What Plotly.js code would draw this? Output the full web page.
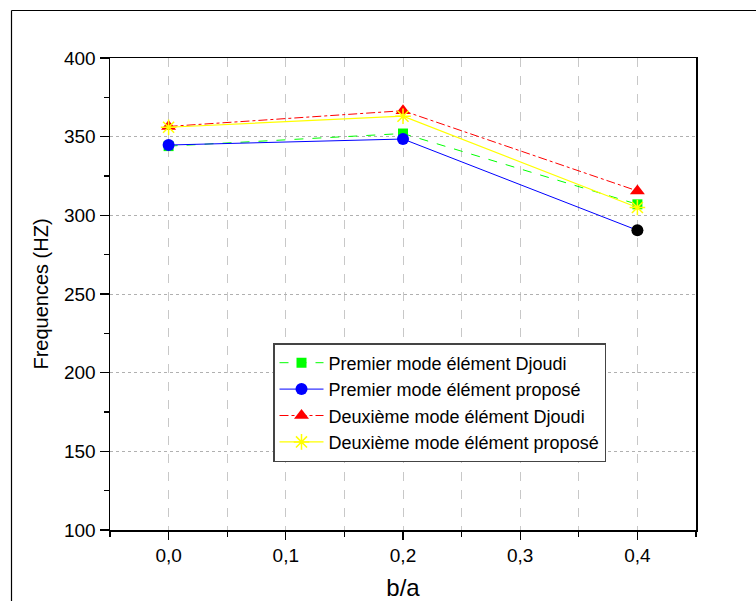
<!DOCTYPE html>
<html>
<head>
<meta charset="utf-8">
<script src="https://cdn.plot.ly/plotly-3.0.1.min.js"></script>
<style>html,body{margin:0;padding:0;background:#fff;}#chart{width:756px;height:601px;}</style>
</head>
<body>
<div id="chart"></div>
<script>
const ratios = [0.0, 0.2, 0.4];
const premierDjoudi = [344, 352, 307];
const premierPropose = [344.7, 348.5, 290.5];
const deuxiemeDjoudi = [356.5, 366.5, 315.5];
const deuxiemePropose = [356, 363, 305];
const seriesNames = [
  "Premier mode élément Djoudi",
  "Premier mode élément proposé",
  "Deuxième mode élément Djoudi",
  "Deuxième mode élément proposé"
];

const FONT = "'Liberation Sans', Arial, sans-serif";

const traces = [
  {x: ratios, y: premierDjoudi, name: seriesNames[0], mode: "lines+markers",
   line: {color: "#00ff00", width: 1, dash: "dash"},
   marker: {symbol: "square", size: 10, color: "#00ff00"}},
  {x: ratios, y: premierPropose, name: seriesNames[1], mode: "lines+markers",
   line: {color: "#0000ff", width: 1},
   marker: {symbol: "circle", size: 12, color: ["#0000ff", "#0000ff", "#000000"]}},
  {x: ratios, y: deuxiemeDjoudi, name: seriesNames[2], mode: "lines+markers",
   line: {color: "#ff0000", width: 1, dash: "dashdot"},
   marker: {symbol: "triangle-up", size: 13, color: "#ff0000"}},
  {x: ratios, y: deuxiemePropose, name: seriesNames[3], mode: "lines+markers",
   line: {color: "#ffff00", width: 1.2},
   marker: {symbol: "asterisk-open", size: 13, color: "#ffff00", line: {color: "#ffff00", width: 1.5}}}
];

const px = v => (v - 110) / 586;
const py = v => (530 - v) / 472;

const layout = {
  width: 756, height: 601,
  margin: {l: 110, r: 60, t: 58, b: 71},
  paper_bgcolor: "#fff", plot_bgcolor: "#fff",
  separators: ",.",
  font: {family: FONT, color: "#000", size: 19},
  showlegend: true,
  legend: {x: px(273), y: py(343), xanchor: "left", yanchor: "top",
    bgcolor: "#fff", bordercolor: "#444", borderwidth: 1.5,
    font: {size: 18, family: FONT, color: "#000"},
    itemwidth: 44,
    tracegroupgap: 0},
  xaxis: {
    range: [-0.05, 0.45], tickmode: "linear", tick0: 0, dtick: 0.1, tickformat: ".1f",
    ticks: "outside", ticklen: 8, tickwidth: 1.2, tickcolor: "#000",
    showline: true, linecolor: "#000", linewidth: 1.5, mirror: true,
    showgrid: true, gridcolor: "#c8c8c8", griddash: "dash", gridwidth: 1,
    minor: {dtick: 0.05, tick0: 0.05, ticks: "outside", ticklen: 5, tickcolor: "#000", tickwidth: 1.2,
            showgrid: true, gridcolor: "#c8c8c8", griddash: "dash", gridwidth: 1},
    zeroline: false,
    tickfont: {size: 19, family: FONT},
    title: {text: "b/a", font: {size: 24, family: FONT}, standoff: 17}
  },
  yaxis: {
    range: [100, 400], tickmode: "linear", tick0: 100, dtick: 50,
    ticks: "outside", ticklen: 9, tickwidth: 1.2, tickcolor: "#000",
    showline: true, linecolor: "#000", linewidth: 1.5, mirror: true,
    showgrid: true, gridcolor: "#b0b0b0", griddash: "dot", gridwidth: 1,
    minor: {dtick: 25, tick0: 125, ticks: "outside", ticklen: 5, tickcolor: "#000", tickwidth: 1.2, showgrid: false},
    zeroline: false,
    tickfont: {size: 19, family: FONT},
    title: {text: "Frequences (HZ)", font: {size: 20, family: FONT}, standoff: 10}
  },
  shapes: [
    {type: "line", xref: "paper", yref: "paper", x0: px(11.5), x1: px(760), y0: py(10.5), y1: py(10.5),
     line: {color: "#000", width: 1.2}},
    {type: "line", xref: "paper", yref: "paper", x0: px(11.5), x1: px(11.5), y0: py(10.5), y1: py(610),
     line: {color: "#000", width: 1.2}}
  ]
};

Plotly.newPlot("chart", traces, layout, {displayModeBar: false, staticPlot: true});
</script>
</body>
</html>
